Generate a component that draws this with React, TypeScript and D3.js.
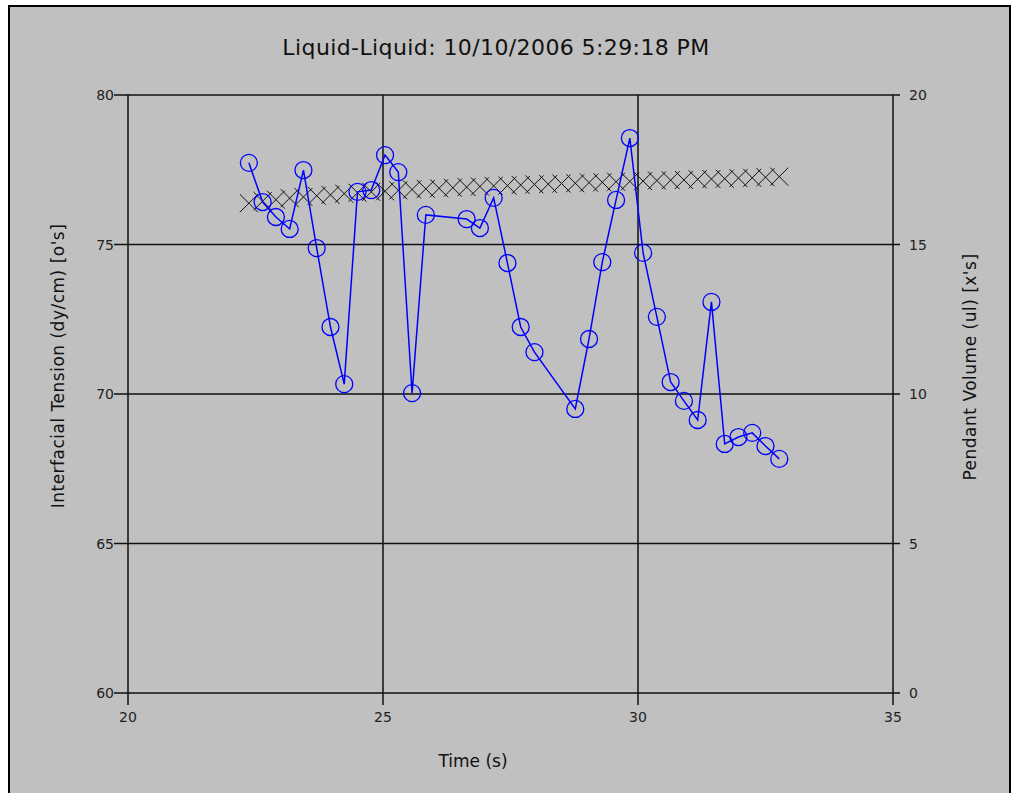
import React from "react";
import * as d3 from "d3";

// time stamps of every drop image (s)
const times = [
  22.37, 22.64, 22.9, 23.17, 23.44, 23.7, 23.97, 24.24, 24.5, 24.77,
  25.04, 25.3, 25.57, 25.84, 26.1, 26.37, 26.64, 26.9, 27.17, 27.44,
  27.7, 27.97, 28.24, 28.5, 28.77, 29.04, 29.3, 29.57, 29.84, 30.1,
  30.37, 30.64, 30.9, 31.17, 31.44, 31.7, 31.97, 32.24, 32.5, 32.77,
];

// interfacial tension (dy/cm), null where no fit was made
const tension = [
  77.73, 76.42, 75.92, 75.52, 77.49, 74.88, 72.24, 70.33, 76.76, 76.82,
  77.99, 77.42, 70.03, 75.99, null, null, 75.85, 75.55, 76.56, 74.38,
  72.24, 71.4, null, null, 69.5, 71.84, 74.41, 76.49, 78.56, 74.72,
  72.58, 70.4, 69.77, 69.13, 73.08, 68.33, 68.56, 68.7, 68.26, 67.83,
];

// pendant drop volume (ul)
const volume = [
  16.38, 16.45, 16.5, 16.55, 16.59, 16.63, 16.66, 16.7, 16.73, 16.76,
  16.78, 16.81, 16.84, 16.86, 16.88, 16.9, 16.92, 16.94, 16.96, 16.97,
  16.99, 17.01, 17.02, 17.04, 17.05, 17.07, 17.08, 17.1, 17.11, 17.12,
  17.14, 17.15, 17.16, 17.18, 17.19, 17.2, 17.22, 17.23, 17.25, 17.27,
];

const xTicks = [20, 25, 30, 35];
const yTicks = [60, 65, 70, 75, 80];
const y2Ticks = [0, 5, 10, 15, 20];

const W = 1013;
const H = 793;
const plot = { left: 128, right: 893, top: 95, bottom: 693 };
const font = "'DejaVu Sans', Verdana, sans-serif";

export default function App() {
  const x = d3.scaleLinear().domain([20, 35]).range([plot.left, plot.right]);
  const y = d3.scaleLinear().domain([60, 80]).range([plot.bottom, plot.top]);
  const y2 = d3.scaleLinear().domain([0, 20]).range([plot.bottom, plot.top]);

  const ift = times
    .map((t, i) => ({ t, v: tension[i] }))
    .filter((d) => d.v !== null) as { t: number; v: number }[];

  const line = d3
    .line<{ t: number; v: number }>()
    .x((d) => x(d.t))
    .y((d) => y(d.v));

  const xs = 9;

  return (
    <svg
      width={W}
      height={H}
      style={{ position: "absolute", left: 0, top: 0, background: "#fff" }}
    >
      <rect x={9} y={6} width={1001} height={792} fill="#c0c0c0" stroke="#000" strokeWidth={2} />

      <text x={496} y={55} textAnchor="middle" fontFamily={font} fontSize={22} letterSpacing={0.4} fill="#111">
        Liquid-Liquid: 10/10/2006 5:29:18 PM
      </text>

      {/* horizontal grid + left/right ticks */}
      {yTicks.map((v) => (
        <g key={"y" + v}>
          <line x1={plot.left - 14} x2={plot.right + 7} y1={y(v)} y2={y(v)} stroke="#111" strokeWidth={1.5} />
          <text x={plot.left - 14} y={y(v) + 5} textAnchor="end" fontFamily={font} fontSize={14} fill="#222">
            {v}
          </text>
        </g>
      ))}
      {y2Ticks.map((v) => (
        <text key={"y2" + v} x={plot.right + 16} y={y2(v) + 5} fontFamily={font} fontSize={14} fill="#222">
          {v}
        </text>
      ))}

      {/* vertical grid + bottom ticks */}
      {xTicks.map((v) => (
        <g key={"x" + v}>
          <line x1={x(v)} x2={x(v)} y1={plot.top} y2={plot.bottom + 12} stroke="#111" strokeWidth={1.5} />
          <text x={x(v)} y={plot.bottom + 29} textAnchor="middle" fontFamily={font} fontSize={14} fill="#222">
            {v}
          </text>
        </g>
      ))}

      {/* pendant volume crosses */}
      {volume.map((v, i) => {
        const cx = x(times[i]);
        const cy = y2(v);
        return (
          <path
            key={"v" + i}
            d={`M${cx - xs},${cy - xs}L${cx + xs},${cy + xs}M${cx - xs},${cy + xs}L${cx + xs},${cy - xs}`}
            stroke="#111"
            strokeWidth={1}
            fill="none"
          />
        );
      })}

      {/* interfacial tension line + circles */}
      <path d={line(ift) || ""} fill="none" stroke="#0000ff" strokeWidth={1.5} />
      {ift.map((d, i) => (
        <circle key={"c" + i} cx={x(d.t)} cy={y(d.v)} r={8.5} fill="none" stroke="#0000ff" strokeWidth={1.3} />
      ))}

      <text x={473} y={767} textAnchor="middle" fontFamily={font} fontSize={17} fill="#111">
        Time (s)
      </text>
      <text
        transform={`translate(64,366) rotate(-90)`}
        textAnchor="middle"
        fontFamily={font}
        fontSize={17}
        letterSpacing={0.5}
        fill="#111"
      >
        Interfacial Tension (dy/cm) [o's]
      </text>
      <text
        transform={`translate(976,367) rotate(-90)`}
        textAnchor="middle"
        fontFamily={font}
        fontSize={17}
        letterSpacing={0.5}
        fill="#111"
      >
        Pendant Volume (ul) [x's]
      </text>
    </svg>
  );
}
